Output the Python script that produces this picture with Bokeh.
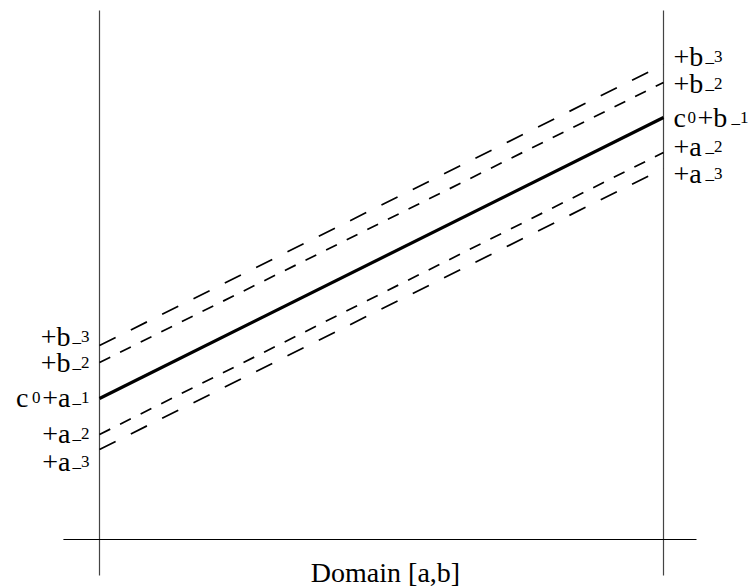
from bokeh.plotting import figure
from bokeh.models import ColumnDataSource, Range1d
from bokeh.core.properties import value
from bokeh.embed import file_html
from bokeh.resources import INLINE

# ---- data -------------------------------------------------------------
domain = [0.0, 1.0]                      # a, b
line_names = ["b_3", "b_2", "c0", "a_2", "a_3"]
left_vals = [1.94, 1.77, 1.41, 1.05, 0.90]     # value at x = a
right_vals = [4.75, 4.57, 4.22, 3.87, 3.71]    # value at x = b

left_label_y = [1.94, 1.68, 1.33, 0.97, 0.69]
right_label_y = [4.74, 4.47, 4.13, 3.84, 3.57]
left_main = ["+b", "+b", "+a", "+a", "+a"]
left_sub = ["_3", "_2", "_1", "_2", "_3"]
right_main = ["+b", "+b", "+b", "+a", "+a"]
right_sub = ["_3", "_2", "_1", "_2", "_3"]
const_main = "c"
const_sub = "0"
x_label = "Domain [a,b]"

# ---- styles -----------------------------------------------------------
widths = [1.7, 1.7, 3.2, 1.7, 1.7]
dashes = ["18 17", "12 11", "solid", "12 11", "18 17"]
FONT = value("Liberation Serif")
BIG = "28px"
SMALL = "17px"
YOFF = -9   # baseline correction in screen px

p = figure(width=752, height=588, output_backend="svg", toolbar_location=None,
           x_range=Range1d(-0.17553, 1.15780), y_range=Range1d(-0.49, 5.39),
           x_axis_location=None, y_axis_location=None, min_border=0)
p.grid.visible = False
p.outline_line_color = None
p.background_fill_color = "white"
p.border_fill_color = "white"

a, b = domain
# frame lines
p.segment(x0=[a, b], y0=[-0.36, -0.36], x1=[a, b], y1=[5.29, 5.29],
          line_color="#444444", line_width=1.2)
p.segment(x0=[a - 0.064], y0=[0], x1=[b + 0.0585], y1=[0],
          line_color="black", line_width=1.2)

for i in range(len(line_names)):
    p.line([a, b], [left_vals[i], right_vals[i]], line_color="black",
           line_width=widths[i], line_dash=dashes[i])

common = dict(text_font=FONT, text_baseline="alphabetic", text_color="black", y_offset=YOFF)

n = len(left_main)
# left labels
lsrc = ColumnDataSource(dict(x=[a] * n, y=left_label_y, main=left_main, sub=left_sub))
p.text(x="x", y="y", text="main", source=lsrc, text_font_size=BIG,
       text_align="right", x_offset=-29, **common)
p.text(x="x", y="y", text="sub", source=lsrc, text_font_size=SMALL,
       text_align="left", x_offset=-27, **common)
p.text(x=[a], y=[left_label_y[2]], text=[const_main], text_font_size=BIG,
       text_align="right", x_offset=-71, **common)
p.text(x=[a], y=[left_label_y[2]], text=[const_sub], text_font_size=SMALL,
       text_align="right", x_offset=-59, **common)

# right labels
rmain_off = [10, 10, 34, 10, 10]
rsub_off = [42, 42, 68, 42, 42]
rsrc = ColumnDataSource(dict(x=[b] * n, y=right_label_y, main=right_main, sub=right_sub,
                             mo=rmain_off, so=rsub_off))
p.text(x="x", y="y", text="main", source=rsrc, text_font_size=BIG,
       text_align="left", x_offset="mo", **common)
p.text(x="x", y="y", text="sub", source=rsrc, text_font_size=SMALL,
       text_align="left", x_offset="so", **common)
p.text(x=[b], y=[right_label_y[2]], text=[const_main], text_font_size=BIG,
       text_align="left", x_offset=10, **common)
p.text(x=[b], y=[right_label_y[2]], text=[const_sub], text_font_size=SMALL,
       text_align="left", x_offset=24, **common)

# domain label
p.text(x=[(a + b) / 2], y=[-0.415], text=[x_label], text_font_size="28px",
       text_align="center", x_offset=4, **common)

open("out.html", "w").write(file_html(p, INLINE))
